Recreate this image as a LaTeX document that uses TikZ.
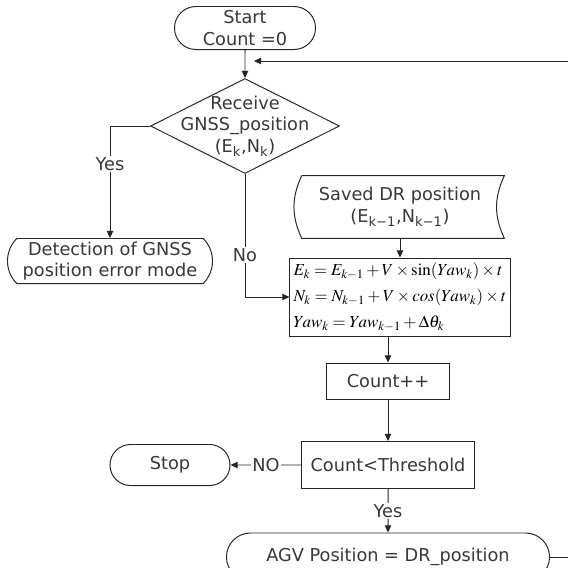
\documentclass[tikz,border=0pt]{standalone}
\usepackage{mathptmx}
\usepackage{fontspec}
\setmainfont{DejaVu Sans}
\usetikzlibrary{shapes.geometric,shapes.misc,arrows.meta}

\begin{document}
\begin{tikzpicture}[x=0.025cm,y=-0.025cm,
  every node/.style={font=\fontsize{12.6}{15.4}\selectfont, text=black!78},
  line/.style={draw=black!85, line width=0.7pt},
  arr/.style={line, -{Triangle[length=5pt,width=4.5pt]}},
  term/.style={line, rounded rectangle, inner sep=0pt, align=center},
  decision/.style={line, diamond, inner sep=0pt, minimum width=4.725cm, minimum height=2.375cm},
  proc/.style={line, rectangle, inner sep=2pt},
  lbl/.style={fill=white, inner sep=1pt}]
  \useasboundingbox (0,0) rectangle (568,568);
  \node[term, minimum width=3.525cm, minimum height=1.075cm] (start) at (245,28) {Start\\Count =0};
  \node[decision] (recv) at (245,126) {};
  \node[align=center, inner sep=0pt] (recvtxt) at (recv) {Receive\\GNSS\_position\\(E\textsubscript{k},N\textsubscript{k})};
  \node[term, rounded rectangle arc length=90, minimum width=5.125cm, minimum height=1.125cm] (detect) at (110,261) {Detection of GNSS\\position error mode};
  \node[align=center, inner sep=0pt, minimum width=5.2cm, minimum height=1.55cm] (saved) at (400,207) {Saved DR position\\(E\textsubscript{k−1},N\textsubscript{k−1})};
  \draw[line] ([xshift=0.15cm]saved.north west) -- (saved.north east) to[bend right=25] (saved.south east) -- ([xshift=0.15cm]saved.south west) to[bend left=25] ([xshift=0.15cm]saved.north west);
  \node[proc, minimum width=5.5cm, minimum height=1.95cm, align=left, font=\fontsize{12}{18.5}\selectfont, text=black] (dr) at (400,297)
    {$E_k = E_{k-1} + V\times\sin(Yaw_k)\times t$\\
     $N_k = N_{k-1} + V\times \mathit{cos}(Yaw_k)\times t$\\
     $Yaw_k = Yaw_{k-1} + \Delta\theta_k$};
  \node[proc, minimum width=3.05cm, minimum height=0.9cm] (cnt) at (388,381) {Count++};
  \node[proc, minimum width=4.3cm, minimum height=1.175cm] (thr) at (388,465) {Count<Threshold};
  \node[term, minimum width=3cm, minimum height=1.025cm] (stop) at (170,465) {Stop};
  \node[term, minimum width=8.075cm, minimum height=1.2cm] (agv) at (388,557) {AGV Position = DR\_position};
  \coordinate (back) at (254,61);
  \draw[arr] (start) -- (recv);
  \draw[arr] (recv.west) -| (detect.north) node[lbl, pos=0.67] {Yes};
  \draw[arr] (recv.south) |- (dr.west) node[lbl, pos=0.33] {No};
  \draw[arr] (saved) -- (dr);
  \draw[arr] (dr.south -| cnt.north) -- (cnt.north);
  \draw[arr] (cnt) -- (thr);
  \draw[arr] (thr) -- (stop) node[lbl, midway] {NO};
  \draw[arr] (thr) -- (agv) node[lbl, midway] {Yes};
  \draw[arr] (agv.east) -- ++(30,0) |- (back);
\end{tikzpicture}
\end{document}
